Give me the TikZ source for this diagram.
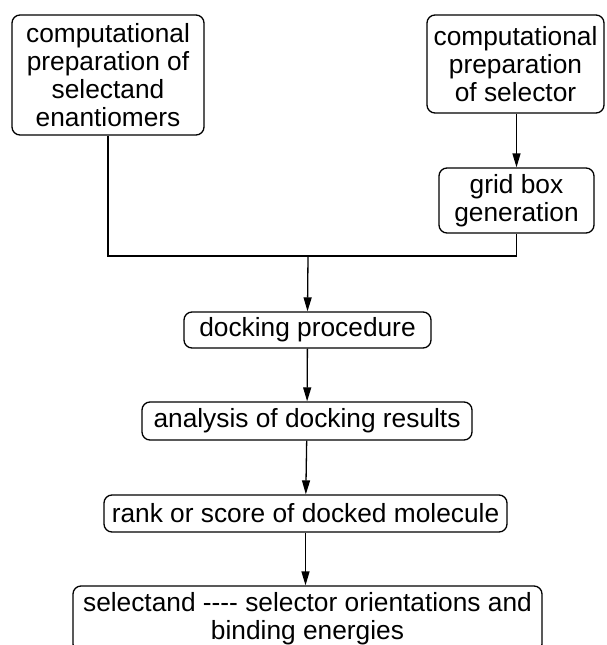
\documentclass[tikz,border=0pt]{standalone}
\usepackage{fontspec}
\setmainfont{Liberation Sans}
\usepackage{tikz}
\usetikzlibrary{arrows.meta, positioning, calc}
\tikzstyle{process} = [rectangle, rounded corners=8pt, draw=black, line width=1.3pt, align=center, inner sep=0pt, font=\fontsize{26.3}{28}\selectfont]
\tikzstyle{link} = [line width=1.3pt]
\tikzstyle{arrow} = [line width=1.3pt, -{Triangle[length=14pt, width=8pt]}]

\begin{document}
\begin{tikzpicture}[x=1pt, y=-1pt]
    \useasboundingbox (0,0) rectangle (607,645);
    \clip (0,0) rectangle (607,645);

    % Preparation steps
    \node[process, minimum width=192pt, minimum height=120pt] (selectand) at (108, 75) {computational\\preparation of\\selectand\\enantiomers};
    \node[process, minimum width=177pt, minimum height=98pt] (selector) at (515.5, 64) {computational\\preparation\\of selector};
    \node[process, minimum width=155pt, minimum height=65pt] (grid) at (516.5, 200.5) {grid box\\generation};

    % Docking chain
    \node[process, minimum width=247pt, minimum height=36pt] (dock) at (307.5, 330) {docking procedure};
    \node[process, minimum width=330pt, minimum height=38pt] (analysis) at (307, 421) {analysis of docking results};
    \node[process, minimum width=403pt, minimum height=37pt] (rank) at (305.5, 513.5) {rank or score of docked molecule};
    \node[process, minimum width=469pt, minimum height=66pt] (result) at (307.5, 619) {selectand -{}-{}-{}- selector orientations and\\binding energies};

    % Merge point
    \coordinate (merge) at (308, 256);

    % Arrows
    \draw[arrow] (selector.south -| grid.north) -- (grid.north);
    \draw[link] (selectand.south) |- (merge) -| (grid.south);
    \draw[arrow] (merge) -- (dock.north);
    \draw[arrow] (dock) -- (analysis);
    \draw[arrow] (analysis) -- (rank);
    \draw[arrow] (rank.south) -- (rank.south |- result.north);
\end{tikzpicture}
\end{document}
